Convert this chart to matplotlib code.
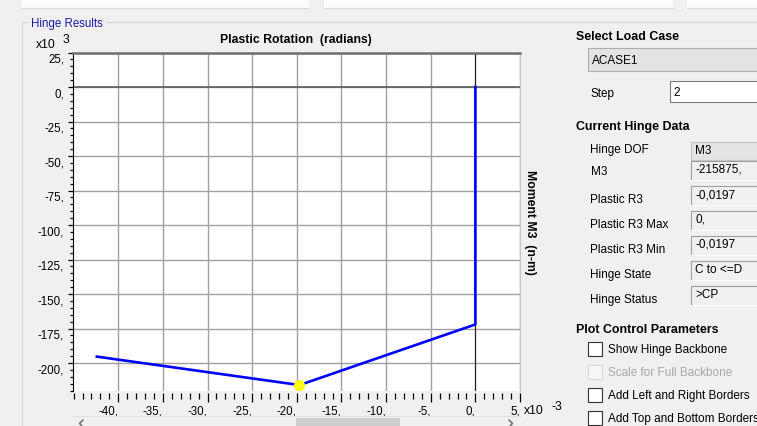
import matplotlib
matplotlib.use("Agg")
import matplotlib.pyplot as plt
from matplotlib.patches import Rectangle
from matplotlib.lines import Line2D
from matplotlib.ticker import MultipleLocator, FuncFormatter

plt.rcParams['font.family'] = ['Liberation Sans', 'DejaVu Sans']
plt.rcParams['font.size'] = 8.5

# hinge response, rotation in 1e-3 rad, moment in 1e3 n-m
rotation = [0.0, 0.0, -19.7, -42.4]
moment = [0.0, -172.0, -215.9, -195.3]
step_rotation = [-19.7]
step_moment = [-215.875]

x_ticks = [-40, -35, -30, -25, -20, -15, -10, -5, 0, 5]
y_ticks = [25, 0, -25, -50, -75, -100, -125, -150, -175, -200]

load_case = "ACASE1"
step = "2"
hinge_labels = ["Hinge DOF", "M3", "Plastic R3", "Plastic R3 Max",
                "Plastic R3 Min", "Hinge State", "Hinge Status"]
hinge_values = ["M3", "-215875,", "-0,0197", "0,", "-0,0197", "C to <=D", ">CP"]
checkbox_labels = ["Show Hinge Backbone", "Scale for Full Backbone",
                   "Add Left and Right Borders", "Add Top and Bottom Borders"]
checkbox_enabled = [True, False, True, True]

W, H = 757, 427
BG = '#f0f0f0'

fig = plt.figure(figsize=(W / 100, H / 100), dpi=100, facecolor=BG)


def fx(x):
    return x / W


def fy(y):
    return 1 - y / H


def rect(x0, y0, x1, y1, fc, ec='none', lw=0.8):
    fig.add_artist(Rectangle((fx(x0), fy(y1)), (x1 - x0) / W, (y1 - y0) / H,
                             transform=fig.transFigure, fc=fc, ec=ec, lw=lw))


def line(xs, ys, color, lw=0.8):
    fig.add_artist(Line2D([fx(v) for v in xs], [fy(v) for v in ys],
                          transform=fig.transFigure, color=color, lw=lw))


def text(x, y, s, **kw):
    kw.setdefault('va', 'center')
    kw.setdefault('ha', 'left')
    kw.setdefault('color', '#000000')
    fig.text(fx(x), fy(y), s, **kw)


def sunken(x0, y0, x1, y1, fc):
    rect(x0, y0, x1, y1, fc)
    line([x0, x0, x1], [y1, y0, y0], '#a0a0a0')
    line([x0, x1, x1], [y1, y1, y0], '#ffffff')


# top strip of tabs
for a, b in [(22, 309), (324, 673), (687, 757)]:
    rect(a, 0, b, 9, '#fbfbfb')
    line([a, b], [9, 9], '#dadada')

# group box
line([22, 22], [23, 427], '#d8d8d8')
line([22, 28], [23, 23], '#d8d8d8')
line([106, 757], [23, 23], '#d8d8d8')
text(31, 24, "Hinge Results", color='#1a1aa8', fontsize=8.3)

# plot
left, right, top, bottom = 72.7, 520, 53.5, 391.7
ax = fig.add_axes([fx(left), fy(bottom), (right - left) / W, (bottom - top) / H])
ax.set_facecolor('white')
ax.plot(rotation, moment, color='#0000ff', lw=1.9, zorder=3)
ax.plot(step_rotation, step_moment, 'o', color='#ffff00', ms=7, zorder=4)
ax.set_xlim(-45.1, 5.0)
ax.set_ylim(-220, 25)
ax.set_xticks(x_ticks)
ax.set_yticks(y_ticks)
ax.xaxis.set_minor_locator(MultipleLocator(1))
ax.yaxis.set_minor_locator(MultipleLocator(5))
fmt = FuncFormatter(lambda v, p: f"{v:g},")
ax.xaxis.set_major_formatter(fmt)
ax.yaxis.set_major_formatter(fmt)
ax.grid(True, which='major', color='#a0a0a0', lw=1.0)
ax.axvline(0, color='#202020', lw=0.8, zorder=2)
ax.axhline(0, color='#555555', lw=1.1, zorder=2)

ax.spines['top'].set_color('#707070')
ax.spines['top'].set_linewidth(1.8)
ax.spines['right'].set_color('#c8c8c8')
ax.spines['left'].set_color('#000000')
ax.spines['left'].set_linewidth(0.8)
ax.spines['bottom'].set_visible(False)
ax.spines['bottom'].set_position(('outward', 2))

ax.tick_params(axis='x', which='major', direction='out', length=6.5, width=0.9,
               pad=1.5, colors='#000000', labelsize=8.3)
ax.tick_params(axis='x', which='minor', direction='out', length=4, width=0.9)
ax.tick_params(axis='y', which='major', direction='out', length=3.6, width=0.9,
               pad=2.5, labelsize=8.3)
ax.tick_params(axis='y', which='minor', direction='out', length=2, width=0.9)
for lbl in ax.get_xticklabels():
    lbl.set_horizontalalignment('right')
for lbl in ax.get_yticklabels():
    lbl.set_verticalalignment('top')

text(296, 40, "Plastic Rotation  (radians)", ha='center', fontweight='bold',
     fontsize=8.8)
text(530, (top + bottom) / 2, "Moment M3  (n-m)", ha='center',
     rotation=270, fontweight='bold', fontsize=8.8)
text(36, 44.5, "x10", fontsize=8.8)
text(63, 40, "3", fontsize=8.8)
text(524, 411, "x10", fontsize=8.8)
text(551, 407.5, "-3", fontsize=8.8)

# scroll bar
line([72, 520], [417, 417], '#e2e2e2')
rect(296, 419, 400, 428, '#cdcdcd')
line([83, 79.5, 83], [421, 424.5, 428], '#606060', lw=1.0)
line([509, 512.5, 509], [421, 424.5, 428], '#606060', lw=1.0)

# right panel
text(576, 36.5, "Select Load Case", fontweight='bold', fontsize=8.9)
rect(587.5, 48.5, 760, 71.5, '#e3e3e3', '#adadad')
text(592, 60.5, load_case)
text(590.5, 94.5, "Step")
rect(670, 82, 760, 103, '#ffffff', '#7a7a7a')
text(673.5, 92.5, step)

text(576, 127, "Current Hinge Data", fontweight='bold', fontsize=8.9)
for i, (lab, val) in enumerate(zip(hinge_labels, hinge_values)):
    ly = 150 + 25 * i
    text(590.5, ly if i != 1 else 172.5, lab)
    if i == 0:
        rect(690.5, 143, 760, 161, '#e3e3e3', '#c6c6c6')
        text(695, 151, val)
    else:
        y0 = 162 + 25 * (i - 1)
        sunken(690.5, y0, 760, y0 + 18.5, BG)
        text(695, y0 + 8, val)

text(576, 330, "Plot Control Parameters", fontweight='bold', fontsize=8.9)
for i, (lab, on) in enumerate(zip(checkbox_labels, checkbox_enabled)):
    cy = 350 + 23.1 * i
    rect(587.5, cy - 7, 601.5, cy + 7, '#ffffff' if on else '#f7f7f7',
         '#333333' if on else '#d8d8d8', lw=0.8)
    text(608.5, cy, lab, color='#000000' if on else '#a8a8a8')

fig.savefig("out.png", dpi=100, facecolor=BG)
